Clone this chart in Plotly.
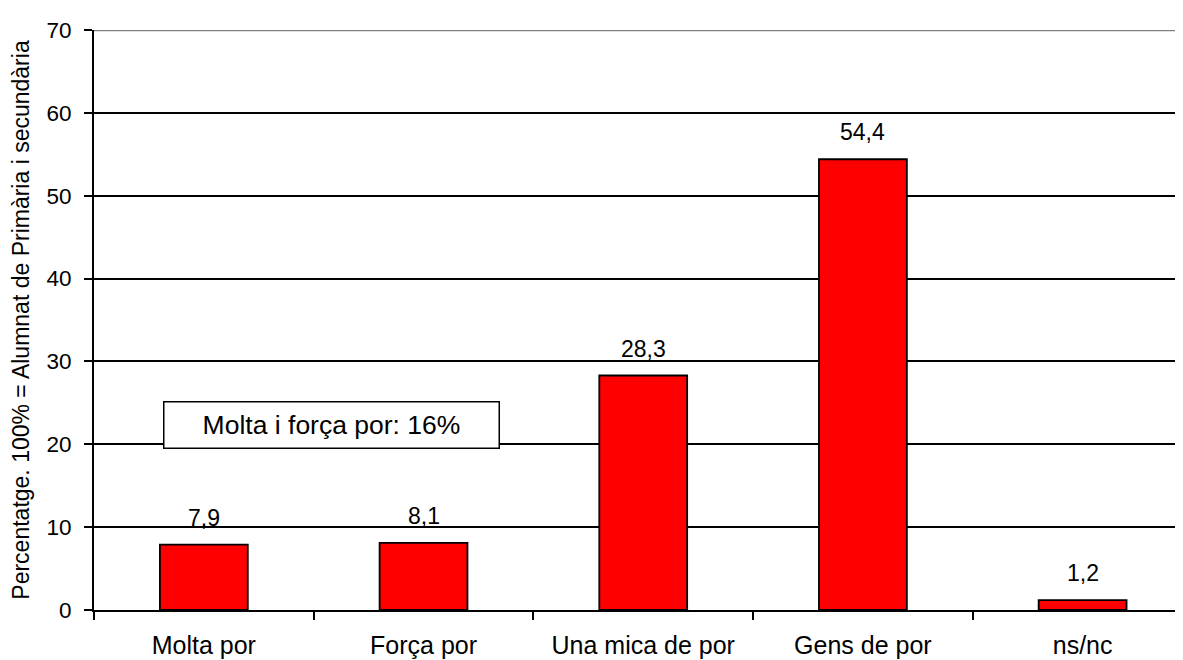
import plotly.graph_objects as go

categories = ["Molta por", "Força por", "Una mica de por", "Gens de por", "ns/nc"]
values = [7.9, 8.1, 28.3, 54.4, 1.2]
y_ticks = [0, 10, 20, 30, 40, 50, 60, 70]
y_title = "Percentatge. 100% = Alumnat de Primària i secundària"
box_text = "Molta i força por: 16%"

FONT = "Arial, Liberation Sans, sans-serif"

fig = go.Figure()
fig.add_trace(go.Bar(
    x=categories, y=values, width=0.4,
    marker=dict(color="#FF0000", line=dict(color="black", width=1.8)),
    hoverinfo="skip",
))

for c, v in zip(categories, values):
    fig.add_annotation(x=c, y=v, text=f"{v:.1f}".replace(".", ","),
                       showarrow=False, yanchor="bottom", yshift=12,
                       font=dict(family=FONT, size=23, color="black"))

fig.add_annotation(x=0.58, y=22.27, xref="x", yref="y", text=box_text,
                   showarrow=False, bgcolor="white", bordercolor="black",
                   borderwidth=1.5, borderpad=8, valign="middle",
                   font=dict(family=FONT, size=26.5, color="black"),
                   width=318, height=29)

fig.add_shape(type="line", xref="paper", yref="y", x0=0, x1=1, y0=70, y1=70,
              line=dict(color="#808080", width=2.5), layer="above")

fig.update_layout(
    width=1175, height=652,
    margin=dict(l=86, r=0, t=22, b=50),
    paper_bgcolor="white", plot_bgcolor="white",
    showlegend=False,
    font=dict(family=FONT, size=18, color="black"),
    xaxis=dict(
        type="category", range=[-0.5, 4.457],
        tickson="boundaries", ticks="outside", ticklen=8, tickwidth=1.8,
        tickcolor="black", showline=True, linecolor="black", linewidth=1.8,
        showgrid=False, tickfont=dict(family=FONT, size=25),
        ticklabelstandoff=12,
    ),
    yaxis=dict(
        range=[0, 70], tickvals=y_ticks, ticks="outside", ticklen=8,
        tickwidth=1.8, tickcolor="black", showline=True, linecolor="black",
        linewidth=2, showgrid=True, gridcolor="black", gridwidth=1.5,
        zeroline=False, tickfont=dict(family=FONT, size=22.5),
        ticklabelstandoff=8,
        title=dict(text=y_title, font=dict(family=FONT, size=23), standoff=12),
    ),
)

fig.write_html("out.html")
